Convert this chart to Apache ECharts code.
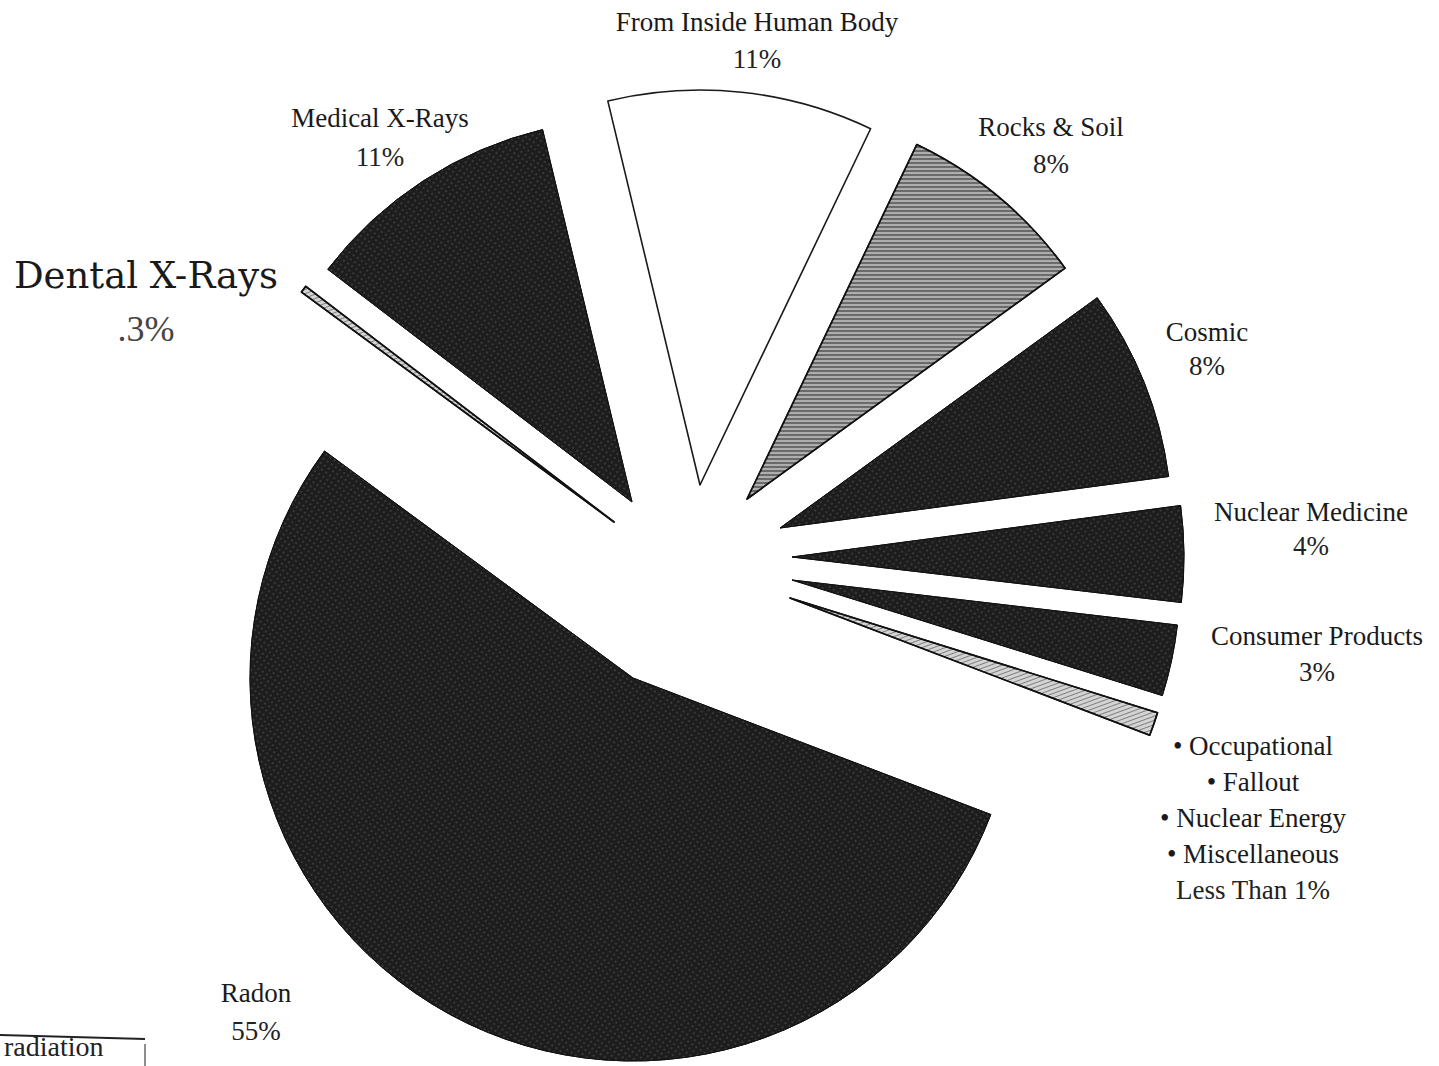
<!DOCTYPE html>
<html>
<head>
<meta charset="utf-8">
<script src="https://cdn.jsdelivr.net/npm/echarts@6/dist/echarts.min.js"></script>
<style>
html,body{margin:0;padding:0;background:#fff;}
#chart{width:1439px;height:1066px;}
</style>
</head>
<body>
<div id="chart"></div>
<script>
// ---- data (clockwise from the top slice) ----
const names = ['From Inside Human Body', 'Rocks & Soil', 'Cosmic', 'Nuclear Medicine', 'Consumer Products',
  '• Occupational\n• Fallout\n• Nuclear Energy\n• Miscellaneous', 'Radon', 'Dental X-Rays', 'Medical X-Rays'];
const values = [11, 8, 8, 4, 3, 1, 55, 0.3, 11];
const pctLabels = ['11%', '8%', '8%', '4%', '3%', 'Less Than 1%', '55%', '.3%', '11%'];
const cornerNote = 'radiation';

// ---- layout / style (not data) ----
const startAngle = 103.5;
const centers = [[700,485],[747,499],[780,528],[792,557],[792,580],[790,598],[633,678],[614,522],[632,502]];
const radii = [395,393,392,392,388,385,383,388,383];
const kinds = ['white','hatch','dark','dark','dark','light','dark','light','dark'];
// baseline positions of the first label line
const labelPos = [[757,33],[1051,138],[1207,343],[1311,523],[1317,647],[1253,757],[256,1004],[146,290],[380,129]];
const lineGap = [37,37,34,34,36,36,38,53,39];

const styleFor = {
  white: {color:'#ffffff', borderColor:'#1a1a1a', borderWidth:1.6},
  dark: {color:'#1d1d1d', borderColor:'#111', borderWidth:1,
    decal:{symbol:'circle', symbolSize:0.7, dashArrayX:[2,3], dashArrayY:[2,3], rotation:0.6, color:'rgba(255,255,255,0.3)'}},
  hatch: {color:'#6a6a6a', borderColor:'#111', borderWidth:1.6,
    decal:{symbol:'rect', symbolSize:1, dashArrayX:[1,0], dashArrayY:[2,2], color:'rgba(255,255,255,0.45)'}},
  light: {color:'#d4d4d4', borderColor:'#111', borderWidth:1.6,
    decal:{symbol:'rect', symbolSize:1, dashArrayX:[1,0], dashArrayY:[1,3], rotation:-0.35, color:'rgba(0,0,0,0.4)'}}
};
const hidden = {color:'rgba(0,0,0,0)', borderWidth:0};

const series = names.map((n, i) => ({
  type:'pie',
  center: centers[i],
  radius: [0, radii[i]],
  startAngle: startAngle,
  clockwise: true,
  silent: true,
  animation: false,
  avoidLabelOverlap: false,
  label: {show:false},
  labelLine: {show:false},
  emphasis: {disabled:true},
  data: names.map((m, j) => ({name:m, value:values[j], itemStyle: j === i ? styleFor[kinds[j]] : hidden}))
}));

const serif = '"Liberation Serif", "Times New Roman", serif';
function textAt(str, x, baseline, size, family, fill, align) {
  return {type:'text', silent:true, style:{text:str, x:x, y:baseline - 0.89*size,
    font: size + 'px ' + family, fill:fill, align:align || 'center', verticalAlign:'top'}};
}
const graphics = [];
names.forEach((n, i) => {
  const [x, y] = labelPos[i];
  let nameSize = 27, nameFam = serif, pctSize = 27, pctFill = '#222';
  if (i === 7) { nameSize = 37; nameFam = '"DejaVu Serif", serif'; pctSize = 36; pctFill = '#444'; }
  const lines = n.split('\n');
  lines.forEach((ln, k) => graphics.push(textAt(ln, x, y + k*36, nameSize, nameFam, '#1a1a1a')));
  graphics.push(textAt(pctLabels[i], x, y + (lines.length-1)*36 + lineGap[i], pctSize, serif, pctFill));
});
graphics.push({type:'line', silent:true, shape:{x1:0, y1:1035, x2:145, y2:1039}, style:{stroke:'#222', lineWidth:2}});
graphics.push({type:'line', silent:true, shape:{x1:145, y1:1044, x2:145, y2:1066}, style:{stroke:'#444', lineWidth:1.2}});
graphics.push(textAt(cornerNote, 4, 1057, 28, serif, '#222', 'left'));

const chart = echarts.init(document.getElementById('chart'), null, {renderer:'svg'});
chart.setOption({
  backgroundColor:'#ffffff',
  animation:false,
  series: series,
  graphic: graphics
});
</script>
</body>
</html>
